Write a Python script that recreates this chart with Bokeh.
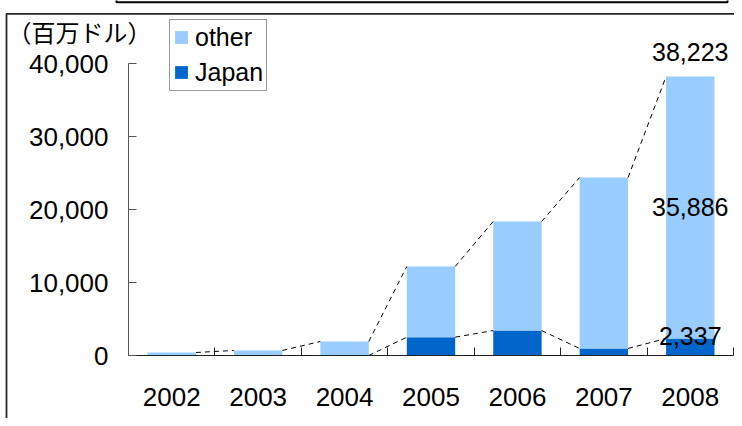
from bokeh.plotting import figure
from bokeh.models import (Range1d, FixedTicker, NumeralTickFormatter, Legend, LegendItem,
                          BoxAnnotation, Label, ColumnDataSource)
from bokeh.embed import file_html
from bokeh.resources import INLINE

# ---- data ----
years = ["2002", "2003", "2004", "2005", "2006", "2007", "2008"]
japan = [0, 0, 0, 2510, 3420, 960, 2337]
other = [410, 690, 1920, 9680, 14940, 23420, 35886]
y_ticks = [0, 10000, 20000, 30000, 40000]
unit_label = "（百万ドル）"
series_names = ["other", "Japan"]

LIGHT = "#99CCFF"
DARK = "#0066CC"
FONT = "Liberation Sans"
FS = "25px"

# ---- geometry (canvas pixels); the frame covers the whole canvas ----
W_CANVAS, H_CANVAS = 734, 418
AX_L, AX_R, AX_T, AX_B = 128, 733, 63, 355
n = len(years)
px_x = (AX_R - AX_L) / n
px_y = (AX_B - AX_T) / y_ticks[-1]
x_start = 0.5 - AX_L / px_x
x_end = n + 0.5 + (W_CANVAS - AX_R) / px_x
y_start = -(H_CANVAS - AX_B) / px_y
y_end = y_ticks[-1] + AX_T / px_y

x = list(range(1, n + 1))
total = [j + o for j, o in zip(japan, other)]
src = ColumnDataSource(dict(x=x, japan=japan, other=other, total=total))

p = figure(width=W_CANVAS, height=H_CANVAS, output_backend="svg", toolbar_location=None,
           x_range=Range1d(x_start, x_end), y_range=Range1d(y_start, y_end),
           min_border=0, min_border_left=0, min_border_right=0,
           min_border_top=0, min_border_bottom=0)
p.xgrid.visible = False
p.ygrid.visible = False
p.outline_line_color = None
p.background_fill_color = "white"
p.border_fill_color = "white"

W = 0.56
r_japan, r_other = p.vbar_stack(["japan", "other"], x="x", width=W, color=[DARK, LIGHT],
                                line_color=None, source=src)

# series lines
seg = ColumnDataSource(dict(
    x0=[xi + W / 2 for xi in x[:-1]], x1=[xi - W / 2 for xi in x[1:]],
    t0=total[:-1], t1=total[1:], j0=japan[:-1], j1=japan[1:]))
p.segment("x0", "t0", "x1", "t1", source=seg, line_color="black", line_dash="5 4", line_width=1)
p.segment("x0", "j0", "x1", "j1", source=seg, line_color="black", line_dash="5 4", line_width=1)

# data labels on last bar
last = n - 1
common = dict(text_font=FONT, text_font_size=FS, text_color="black", text_align="center")
p.add_layout(Label(x=x[last], y=total[last], text=f"{total[last]:,}", y_offset=24,
                   text_baseline="alphabetic", **common))
p.add_layout(Label(x=x[last], y=japan[last] + other[last] / 2, text=f"{other[last]:,}",
                   text_baseline="middle", **common))
p.add_layout(Label(x=x[last], y=japan[last], text=f"{japan[last]:,}", y_offset=2,
                   text_baseline="middle", **common))

# axes drawn at fixed data locations inside the frame
ax = p.xaxis[0]
ax.fixed_location = 0
ax.bounds = (0.5, n + 0.5)
ax.ticker = FixedTicker(ticks=x, minor_ticks=[i + 0.5 for i in range(n + 1)])
ax.major_label_overrides = {xi: yr for xi, yr in zip(x, years)}
ax.major_tick_in = 0
ax.major_tick_out = 0
ax.minor_tick_in = 8
ax.minor_tick_out = 0
ax.major_label_standoff = 32
ax.axis_line_color = "#222222"
ax.minor_tick_line_color = "#222222"

ay = p.yaxis[0]
ay.fixed_location = 0.5
ay.bounds = (y_ticks[0], y_ticks[-1])
ay.ticker = FixedTicker(ticks=y_ticks, minor_ticks=[])
ay.formatter = NumeralTickFormatter(format="0,0")
ay.major_tick_in = 8
ay.major_tick_out = 0
ay.minor_tick_in = 0
ay.minor_tick_out = 0
ay.major_label_standoff = 20
ay.axis_line_color = "#555555"
ay.major_tick_line_color = "#555555"

for a in (ax, ay):
    a.major_label_text_font = FONT
    a.major_label_text_font_size = "26px"
    a.major_label_text_color = "black"

# unit label
p.add_layout(Label(x=7, y=30.5, x_units="canvas", y_units="canvas", text=unit_label,
                   text_font="Noto Sans CJK JP", text_font_size="24px", text_color="black",
                   text_baseline="middle", text_align="left"))

# legend
legend = Legend(items=[LegendItem(label=series_names[0], renderers=[r_other]),
                       LegendItem(label=series_names[1], renderers=[r_japan])],
                location=(169, H_CANVAS - 90.5), padding=3, spacing=6, label_standoff=6,
                glyph_width=16, glyph_height=16, label_height=20, margin=0,
                label_text_font=FONT, label_text_font_size=FS, label_text_color="black",
                border_line_color="#333333", border_line_width=1.5,
                background_fill_color="white", background_fill_alpha=1)
p.add_layout(legend)

# chart area border and (cropped) title box
p.add_layout(BoxAnnotation(left=6, right=W_CANVAS + 20, top=13.3, bottom=H_CANVAS + 20,
                           left_units="canvas", right_units="canvas",
                           top_units="canvas", bottom_units="canvas",
                           fill_color=None, fill_alpha=0, line_color="#262626",
                           line_alpha=1, line_width=1.8, level="overlay"))
p.add_layout(BoxAnnotation(left=116, right=727, top=-20, bottom=1.8,
                           left_units="canvas", right_units="canvas",
                           top_units="canvas", bottom_units="canvas",
                           fill_color=None, fill_alpha=0, line_color="black",
                           line_alpha=1, line_width=2, level="overlay"))

open("out.html", "w").write(file_html(p, INLINE))
